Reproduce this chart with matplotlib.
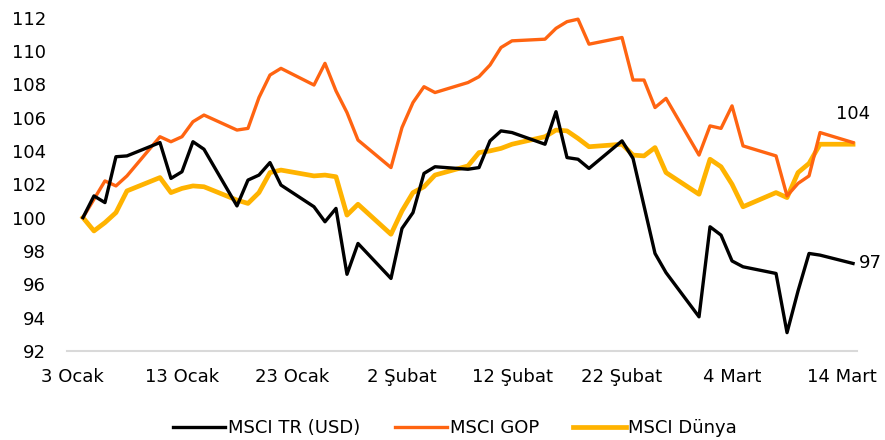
import matplotlib
matplotlib.use('Agg')
import matplotlib.pyplot as plt
import matplotlib.dates as mdates
import pandas as pd

# trading days, 4 Jan - 15 Mar 2021
dates = pd.bdate_range('2021-01-04', '2021-03-15')

msci_tr = [100.0, 101.3, 100.9, 103.65, 103.7, 104.5, 102.35, 102.75, 104.55, 104.1,
           100.7, 102.25, 102.55, 103.3, 101.95, 100.65, 99.75, 100.55, 96.6, 98.45,
           96.35, 99.35, 100.3, 102.65, 103.05, 102.9, 103.0, 104.6, 105.2, 105.1,
           104.4, 106.35, 103.6, 103.5, 102.95, 104.6, 103.55, 100.7, 97.85, 96.7,
           94.05, 99.45, 98.95, 97.4, 97.05, 96.65, 93.1, 95.6, 97.85, 97.75,
           97.25]
msci_gop = [100.0, 101.1, 102.2, 101.9, 102.5, 104.85, 104.55, 104.85, 105.75, 106.15,
            105.25, 105.35, 107.2, 108.55, 108.95, 107.95, 109.25, 107.6, 106.3, 104.65,
            103.0, 105.4, 106.9, 107.85, 107.5, 108.1, 108.45, 109.15, 110.2, 110.6,
            110.7, 111.35, 111.75, 111.9, 110.4, 110.8, 108.25, 108.25, 106.6, 107.15,
            103.75, 105.5, 105.35, 106.7, 104.3, 103.7, 101.3, 102.05, 102.5, 105.1,
            104.5]
msci_dunya = [100.0, 99.2, 99.7, 100.3, 101.6, 102.4, 101.5, 101.75, 101.9, 101.85,
              101.05, 100.85, 101.5, 102.7, 102.85, 102.5, 102.55, 102.45, 100.15, 100.8,
              99.0, 100.4, 101.5, 101.85, 102.55, 103.1, 103.9, 104.0, 104.15, 104.4,
              104.85, 105.25, 105.2, 104.75, 104.25, 104.4, 103.75, 103.7, 104.2, 102.7,
              101.4, 103.5, 103.05, 102.0, 100.65, 101.5, 101.2, 102.7, 103.25, 104.4,
              104.4]

tick_dates = ['2021-01-03', '2021-01-13', '2021-01-23', '2021-02-02',
              '2021-02-12', '2021-02-22', '2021-03-04', '2021-03-14']
tick_labels = ['3 Ocak', '13 Ocak', '23 Ocak', '2 Şubat',
               '12 Şubat', '22 Şubat', '4 Mart', '14 Mart']
y_ticks = list(range(92, 113, 2))

plt.rcParams['font.family'] = ['DejaVu Sans']
plt.rcParams['font.size'] = 13

fig = plt.figure(figsize=(8.85, 4.4), dpi=100)
ax = fig.add_axes([67 / 885, 1 - 351 / 440, (857 - 67) / 885, (351 - 17.5) / 440])

ax.plot(dates, msci_tr, color='black', lw=2.4, label='MSCI TR (USD)', zorder=3)
ax.plot(dates, msci_gop, color='#FF6411', lw=2.4, label='MSCI GOP', zorder=2)
ax.plot(dates, msci_dunya, color='#FFB300', lw=3.4, label='MSCI Dünya', zorder=1)

x0 = mdates.date2num(pd.Timestamp('2021-01-03'))
ax.set_xlim(x0 - 0.45, x0 + 71.36)
ax.set_ylim(92, 112)
ax.set_xticks([mdates.date2num(pd.Timestamp(d)) for d in tick_dates])
ax.set_xticklabels(tick_labels)
ax.set_yticks(y_ticks)
ax.tick_params(axis='both', length=0, colors='black')
ax.tick_params(axis='y', pad=15)
ax.tick_params(axis='x', pad=12)

for s in ['top', 'right', 'left']:
    ax.spines[s].set_visible(False)
ax.spines['bottom'].set_color('#D9D9D9')
ax.spines['bottom'].set_linewidth(1.5)

# end labels
ax.annotate(f'{msci_gop[-1]:.0f}', (dates[-1], msci_gop[-1]), xytext=(0, 14),
            textcoords='offset points', ha='center', va='bottom', annotation_clip=False)
ax.annotate(f'{msci_tr[-1]:.0f}', (dates[-1], msci_tr[-1]), xytext=(4, 0),
            textcoords='offset points', ha='left', va='center', annotation_clip=False)

fig.legend(loc='center', bbox_to_anchor=(455 / 885, 1 - 428 / 440), ncol=3, frameon=False,
           handlelength=2.9, handletextpad=0.15, columnspacing=1.9, fontsize=13)

fig.savefig('out.png', dpi=100)
